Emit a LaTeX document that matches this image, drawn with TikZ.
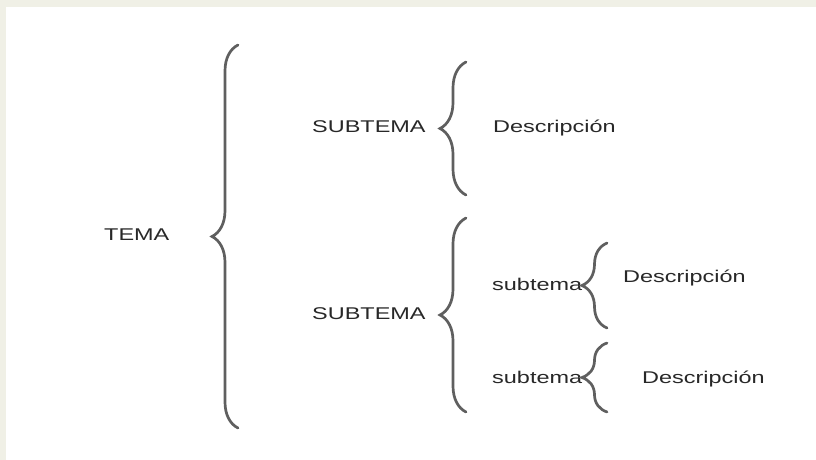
\documentclass[tikz,border=0pt]{standalone}
\usepackage{fontspec}
\setmainfont{Liberation Sans}
\usetikzlibrary{decorations.pathreplacing}
\definecolor{fondo}{RGB}{240,240,230}
\definecolor{texto}{RGB}{40,40,40}
\definecolor{gris}{RGB}{95,95,95}
\newcommand{\ancho}[1]{\scalebox{1.38}[1]{#1}}
\tikzset{
  txt/.style={anchor=base west, inner sep=0pt, text=texto, font=\fontsize{17}{20}\selectfont},
  llave/.style={draw=gris, line width=2.7pt, line cap=round, decorate, decoration={brace, amplitude=#1}},
  llave/.default=26
}
\begin{document}
\begin{tikzpicture}[x=1pt,y=-1pt]
\fill[fondo] (0,0) rectangle (816,460);
\fill[white] (6,7) rectangle (816,460);
\useasboundingbox (0,0) rectangle (816,460);

\node (tema) at (104,240) [txt]{\ancho{TEMA}};
\node (sub1) at (312,132) [txt]{\ancho{SUBTEMA}};
\node (sub2) at (312,319) [txt]{\ancho{SUBTEMA}};
\node (desc1) at (493,132) [txt]{\ancho{Descripción}};
\node (subsub1) at (492,290) [txt]{\ancho{subtema}};
\node (subsub2) at (492,383) [txt]{\ancho{subtema}};
\node (desc2) at (623,282) [txt]{\ancho{Descripción}};
\node (desc3) at (642,383) [txt]{\ancho{Descripción}};

% llaves
\coordinate (a0) at (238,428); \coordinate (b0) at (238,45);
\coordinate (a1) at (466,195); \coordinate (b1) at (466,62);
\coordinate (a2) at (466,412); \coordinate (b2) at (466,218);
\coordinate (a3) at (607,328); \coordinate (b3) at (607,243);
\coordinate (a4) at (607,412); \coordinate (b4) at (607,343);
\draw[llave] (a0) -- (b0);
\draw[llave] (a1) -- (b1);
\draw[llave] (a2) -- (b2);
\draw[llave=25] (a3) -- (b3);
\draw[llave=25] (a4) -- (b4);
\end{tikzpicture}
\end{document}
